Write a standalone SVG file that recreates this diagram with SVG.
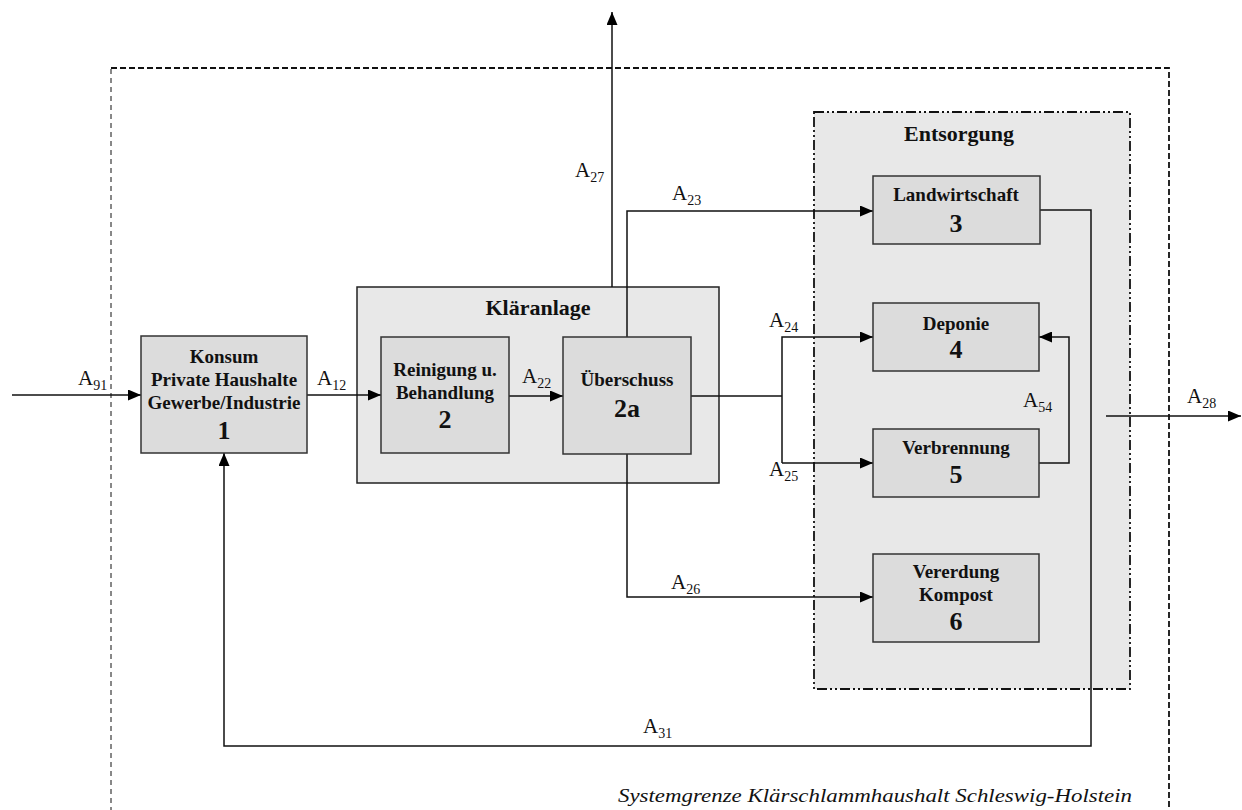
<svg xmlns="http://www.w3.org/2000/svg" width="1242" height="810" viewBox="0 0 1242 810">
<defs>
<style>
.bg{fill:#ffffff}
.grp{fill:#e8e8e8;stroke:#222;stroke-width:1.5}
.box{fill:#dcdcdc;stroke:#333;stroke-width:1.5}
.t{font-family:"Liberation Serif","Times New Roman",serif;font-weight:bold;font-size:19px;fill:#111;text-anchor:middle}
.n{font-family:"Liberation Serif","Times New Roman",serif;font-weight:bold;font-size:26px;fill:#111;text-anchor:middle}
.h{font-family:"Liberation Serif","Times New Roman",serif;font-weight:bold;font-size:22px;fill:#111;text-anchor:middle}
.lbl{font-family:"Liberation Serif","Times New Roman",serif;font-size:21px;fill:#111}
.sub{font-size:14px}
.c{fill:none;stroke:#111;stroke-width:1.5}
</style>
<marker id="ah" viewBox="0 0 13 11" refX="13" refY="5.5" markerWidth="13" markerHeight="11" markerUnits="userSpaceOnUse" orient="auto">
<path d="M0,0 L13,5.5 L0,11 Z" fill="#000"/>
</marker>
</defs>
<rect class="bg" x="0" y="0" width="1242" height="810"/>

<g id="systemgrenze">
<path d="M111,812 L111,68" fill="none" stroke="#111" stroke-width="1" stroke-dasharray="5 4"/>
<path d="M111,68 L1169,68 L1169,812" fill="none" stroke="#111" stroke-width="1.8" stroke-dasharray="6 3"/>
<text x="1132" y="802" font-family="'Liberation Serif','Times New Roman',serif" font-style="italic" font-size="19" fill="#111" text-anchor="end" textLength="514" lengthAdjust="spacingAndGlyphs">Systemgrenze Klärschlammhaushalt Schleswig-Holstein</text>
</g>

<g id="entsorgung">
<rect x="814" y="112" width="316" height="577" fill="#e8e8e8" stroke="#111" stroke-width="1.8" stroke-dasharray="10 3 2 3 2 3"/>
<text class="h" x="959" y="141">Entsorgung</text>
</g>

<g id="klaeranlage">
<rect class="grp" x="357" y="287" width="362" height="196"/>
<text class="h" x="538" y="315">Kläranlage</text>
</g>

<g id="connectors">
<path class="c" d="M12,395 L141,395" marker-end="url(#ah)"/>
<path class="c" d="M307,395 L381,395" marker-end="url(#ah)"/>
<path class="c" d="M509,396 L563,396" marker-end="url(#ah)"/>
<path class="c" d="M612,287 L612,12" marker-end="url(#ah)"/>
<path class="c" d="M627,337 L627,211 L873,211" marker-end="url(#ah)"/>
<path class="c" d="M627,454 L627,597 L873,597" marker-end="url(#ah)"/>
<path class="c" d="M691,396 L782,396"/>
<path class="c" d="M782,463 L782,337 L873,337" marker-end="url(#ah)"/>
<path class="c" d="M782,463 L873,463" marker-end="url(#ah)"/>
<path class="c" d="M1039,463 L1069,463 L1069,337 L1039,337" marker-end="url(#ah)"/>
<path class="c" d="M1106,416 L1241,416" marker-end="url(#ah)"/>
<path class="c" d="M1040,210 L1091,210 L1091,746 L224,746 L224,453" marker-end="url(#ah)"/>
</g>

<g id="labels">
<text class="lbl" x="78" y="385">A<tspan class="sub" dy="5">91</tspan></text>
<text class="lbl" x="317" y="385">A<tspan class="sub" dy="5">12</tspan></text>
<text class="lbl" x="522" y="383">A<tspan class="sub" dy="5">22</tspan></text>
<text class="lbl" x="575" y="177">A<tspan class="sub" dy="5">27</tspan></text>
<text class="lbl" x="672" y="200">A<tspan class="sub" dy="5">23</tspan></text>
<text class="lbl" x="769" y="327">A<tspan class="sub" dy="5">24</tspan></text>
<text class="lbl" x="769" y="476">A<tspan class="sub" dy="5">25</tspan></text>
<text class="lbl" x="671" y="589">A<tspan class="sub" dy="5">26</tspan></text>
<text class="lbl" x="1023" y="407" fill="#333">A<tspan class="sub" dy="5">54</tspan></text>
<text class="lbl" x="1187" y="403">A<tspan class="sub" dy="5">28</tspan></text>
<text class="lbl" x="643" y="733">A<tspan class="sub" dy="5">31</tspan></text>
</g>

<g id="node1">
<rect class="box" x="141" y="336" width="166" height="117"/>
<text class="t" x="224" y="363">Konsum</text>
<text class="t" x="224" y="386">Private Haushalte</text>
<text class="t" x="224" y="409">Gewerbe/Industrie</text>
<text class="n" x="224" y="439">1</text>
</g>

<g id="node2">
<rect class="box" x="381" y="337" width="128" height="116"/>
<text class="t" x="445" y="376">Reinigung u.</text>
<text class="t" x="445" y="399">Behandlung</text>
<text class="n" x="445" y="428">2</text>
</g>

<g id="node2a">
<rect class="box" x="563" y="337" width="128" height="117"/>
<text class="t" x="627" y="386">Überschuss</text>
<text class="n" x="627" y="417">2a</text>
</g>

<g id="node3">
<rect class="box" x="873" y="176" width="167" height="68"/>
<text class="t" x="956" y="201">Landwirtschaft</text>
<text class="n" x="956" y="232">3</text>
</g>

<g id="node4">
<rect class="box" x="873" y="303" width="166" height="68"/>
<text class="t" x="956" y="330">Deponie</text>
<text class="n" x="956" y="358">4</text>
</g>

<g id="node5">
<rect class="box" x="873" y="429" width="166" height="68"/>
<text class="t" x="956" y="454">Verbrennung</text>
<text class="n" x="956" y="483">5</text>
</g>

<g id="node6">
<rect class="box" x="873" y="554" width="166" height="88"/>
<text class="t" x="956" y="578">Vererdung</text>
<text class="t" x="956" y="601">Kompost</text>
<text class="n" x="956" y="630">6</text>
</g>
</svg>
